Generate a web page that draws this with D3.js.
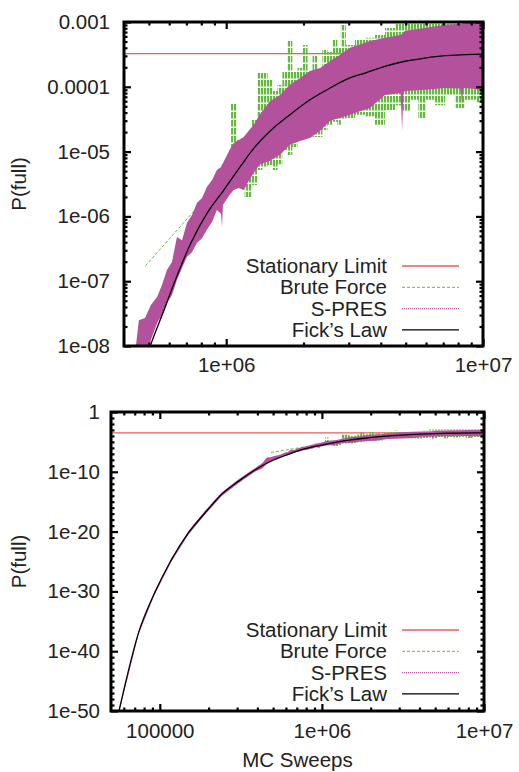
<!DOCTYPE html>
<html>
<head>
<meta charset="utf-8">
<script src="https://cdn.jsdelivr.net/npm/d3@7"></script>
<style>
body{margin:0;background:#fff;}
text{font-family:"Liberation Sans",Arial,sans-serif;fill:#222;}
</style>
</head>
<body>
<div id="chart-area"></div>
<script>
// values
var stationaryLimit = [3.25e-4];

var fickX = [5.6e4, 7.4e4, 9.3e4, 1.18e5, 1.5e5, 1.9e5, 2.4e5, 3.05e5, 3.86e5,
  5.08e5, 5.73e5, 6.27e5, 7.28e5, 8.43e5, 9.79e5, 1.14e6, 1.28e6, 1.48e6, 1.77e6,
  2.12e6, 2.54e6, 3.03e6, 3.47e6, 4.15e6, 4.97e6, 5.94e6, 7.11e6, 8.51e6, 1e7];
var fickY = [1e-50, 1.3e-37, 6e-31, 2e-25, 6e-21, 1.3e-17, 1.6e-14, 2.5e-12, 2e-10,
  1.04e-8, 3.6e-8, 9.3e-8, 3.85e-7, 1.12e-6, 2.55e-6, 6.0e-6, 1.12e-5, 2.06e-5, 3.7e-5,
  6.3e-5, 9.6e-5, 1.37e-4, 1.63e-4, 2.07e-4, 2.48e-4, 2.78e-4, 3.02e-4, 3.13e-4, 3.2e-4];

// S-PRES: lower / upper edge of the noisy band
var spresX = [5.6e4, 7.4e4, 9.3e4, 1.18e5, 1.5e5, 1.9e5, 2.4e5, 3.05e5, 3.86e5, 4.3e5,
  4.57e5, 4.83e5, 5.09e5, 5.38e5, 5.62e5, 5.88e5, 6.15e5, 6.43e5, 6.73e5, 7.03e5,
  7.36e5, 7.69e5, 8.05e5, 8.41e5, 8.81e5, 9.2e5, 9.55e5, 9.63e5, 9.71e5, 1.03e6,
  1.07e6, 1.12e6, 1.17e6, 1.23e6, 1.28e6, 1.35e6, 1.48e6, 1.62e6, 1.77e6, 1.94e6,
  2.12e6, 2.32e6, 2.54e6, 2.77e6, 3.03e6, 3.32e6, 3.63e6, 4.15e6, 4.78e6, 4.84e6,
  4.90e6, 4.97e6, 5.94e6, 7.11e6, 8.2e6, 8.28e6, 8.36e6, 8.51e6, 1e7];
var spresLo = [5e-51, 7e-38, 3e-31, 1e-25, 3e-21, 7e-18, 8e-15, 1.2e-12, 1e-10, 4e-10,
  2e-9, 5e-9, 1.24e-8, 2.26e-8, 3.0e-8, 4.6e-8, 6.1e-8, 1.04e-7, 1.6e-7, 2.36e-7,
  2.8e-7, 3.9e-7, 4.6e-7, 6.2e-7, 8.2e-7, 1.26e-6, 1.1e-6, 6.9e-7, 1.5e-6, 2.14e-6,
  2.55e-6, 2.74e-6, 2.55e-6, 3.65e-6, 4.7e-6, 6.3e-6, 7.2e-6, 8.95e-6, 1.28e-5, 1.46e-5,
  1.62e-5, 2.1e-5, 3.0e-5, 3.3e-5, 3.7e-5, 4.2e-5, 4.7e-5, 7.5e-5, 8.0e-5, 2.1e-5,
  8.3e-5, 8.6e-5, 9.0e-5, 9.6e-5, 9.4e-5, 5.1e-5, 9.5e-5, 9.6e-5, 9.0e-5];
var spresHi = [2e-50, 2.5e-37, 1.2e-30, 4e-25, 1.2e-20, 3e-17, 3e-14, 5e-12, 4e-10, 3e-9,
  2.5e-8, 2.7e-8, 4.3e-8, 5.7e-8, 8.7e-8, 1.49e-7, 1.98e-7, 4.8e-7, 4.3e-7, 7.9e-7,
  1.05e-6, 1.61e-6, 1.92e-6, 2.84e-6, 3.65e-6, 5.2e-6, 5.8e-6, 6.3e-6, 6.6e-6, 1.06e-5,
  1.36e-5, 1.51e-5, 1.68e-5, 2.15e-5, 2.6e-5, 3.7e-5, 6.0e-5, 7.5e-5, 1.08e-4, 1.37e-4,
  1.75e-4, 1.95e-4, 2.5e-4, 3.1e-4, 4.0e-4, 4.5e-4, 5.1e-4, 5.7e-4, 6.3e-4, 6.5e-4,
  6.9e-4, 7.3e-4, 8.1e-4, 9.1e-4, 9.4e-4, 9.5e-4, 9.6e-4, 9.7e-4, 1.04e-3];

// Brute Force: sparse start, then noisy band
var bruteLineX = [4.85e5, 1.02e6];
var bruteLineY = [1.73e-7, 4.8e-6];
var bruteX = [1.02e6, 1.07e6, 1.13e6, 1.23e6, 1.29e6, 1.35e6, 1.42e6, 1.48e6, 1.55e6, 1.62e6,
  1.69e6, 1.77e6, 1.85e6, 1.94e6, 2.03e6, 2.12e6, 2.22e6, 2.32e6, 2.42e6, 2.54e6,
  2.65e6, 2.77e6, 2.82e6, 3.03e6, 3.32e6, 3.63e6, 3.97e6, 4.34e6, 4.75e6, 4.97e6,
  5.43e6, 5.78e6, 6.22e6, 6.81e6, 7.43e6, 8.13e6, 8.89e6, 1e7];
var bruteLo = [4.8e-6, 1.18e-5, 4.4e-6, 2.0e-6, 3.05e-6, 5.2e-6, 5.6e-6, 6.2e-6, 5.2e-6, 6.4e-6,
  1.06e-5, 8.9e-6, 1.18e-5, 1.51e-5, 1.62e-5, 1.74e-5, 1.68e-5, 1.68e-5, 2.15e-5, 2.6e-5,
  2.9e-5, 2.6e-5, 3.1e-5, 3.3e-5, 3.7e-5, 3.5e-5, 2.6e-5, 4.4e-5, 5.2e-5, 4.1e-5,
  6.3e-5, 3.3e-5, 6.3e-5, 5.2e-5, 7.5e-5, 4.7e-5, 6.3e-5, 5.8e-5];
var bruteHi = [4.8e-6, 5.6e-5, 1.51e-5, 1.8e-5, 3.1e-5, 1.63e-4, 1.63e-4, 1.27e-4, 8.6e-5, 1.07e-4,
  1.75e-4, 5.1e-4, 1.75e-4, 1.95e-4, 4.4e-4, 1.75e-4, 3.1e-4, 1.75e-4, 3.7e-4, 3.44e-4,
  5.3e-4, 4.0e-4, 9.0e-4, 4.4e-4, 5.3e-4, 5.7e-4, 6.3e-4, 8.1e-4, 1.2e-3, 1.2e-3,
  1.2e-3, 1.2e-3, 1.2e-3, 1.2e-3, 1.2e-3, 1.2e-3, 1.2e-3, 1.2e-3];

var legendNames = ["Stationary Limit", "Brute Force", "S-PRES", "Fick\u2019s Law"];

var topXTicks = [1e6, 1e7], topXLabels = ["1e+06", "1e+07"];
var topYTicks = [1e-3, 1e-4, 1e-5, 1e-6, 1e-7, 1e-8];
var topYLabels = ["0.001", "0.0001", "1e-05", "1e-06", "1e-07", "1e-08"];
var botXTicks = [1e5, 1e6, 1e7], botXLabels = ["100000", "1e+06", "1e+07"];
var botYTicks = [1, 1e-10, 1e-20, 1e-30, 1e-40, 1e-50];
var botYLabels = ["1", "1e-10", "1e-20", "1e-30", "1e-40", "1e-50"];

var red = "#f05a5a", green = "#64b83e", magenta = "#b4519d";

var svg = d3.select("#chart-area").append("svg")
    .attr("width", 519)
    .attr("height", 772);

var defs = svg.append("defs");
var pat = defs.append("pattern")
    .attr("id", "gdash")
    .attr("patternUnits", "userSpaceOnUse")
    .attr("width", 3).attr("height", 8);
pat.append("rect").attr("width", 2.2).attr("height", 6.5).attr("fill", green);

// minor ticks at 2..9 of each decade
function minorLog(dom) {
  var out = [];
  for (var e = Math.floor(Math.log10(dom[0])); e < Math.ceil(Math.log10(dom[1])); e++) {
    for (var k = 2; k <= 9; k++) {
      var v = k * Math.pow(10, e);
      if (v > dom[0] * 1.0001 && v < dom[1] * 0.9999) out.push(v);
    }
  }
  return out;
}
// minor ticks at every decade between the labelled ones
function minorDecades(dom, majors) {
  var out = [];
  for (var e = Math.round(Math.log10(dom[0])); e <= Math.round(Math.log10(dom[1])); e++) {
    var v = Number("1e" + e);
    if (majors.indexOf(v) < 0) out.push(v);
  }
  return out;
}

var panels = [
  {id: "a", xDom: [4e5, 1e7], xRange: [124, 483], yDom: [1e-8, 1e-3], yRange: [346, 22],
   xTicks: topXTicks, xLabels: topXLabels, yTicks: topYTicks, yLabels: topYLabels,
   yPad: 14, xPad: 11, legendTop: 266, labelX: 26, xTitle: null},
  {id: "b", xDom: [5e4, 1e7], xRange: [111, 484], yDom: [1e-50, 1], yRange: [711, 412],
   xTicks: botXTicks, xLabels: botXLabels, yTicks: botYTicks, yLabels: botYLabels,
   yPad: 11, xPad: 12, legendTop: 630, labelX: 26, xTitle: "MC Sweeps", decadeMinor: true}
];

panels.forEach(function(p) {
  var x = d3.scaleLog().domain(p.xDom).range(p.xRange);
  var y = d3.scaleLog().domain(p.yDom).range(p.yRange);
  var g = svg.append("g");

  defs.append("clipPath").attr("id", "clip" + p.id).append("rect")
      .attr("x", x(p.xDom[0])).attr("y", y(p.yDom[1]))
      .attr("width", x(p.xDom[1]) - x(p.xDom[0]))
      .attr("height", y(p.yDom[0]) - y(p.yDom[1]));

  var plot = g.append("g").attr("clip-path", "url(#clip" + p.id + ")");

  // stationary limit
  plot.append("line")
      .attr("x1", x(p.xDom[0])).attr("x2", x(p.xDom[1]))
      .attr("y1", y(stationaryLimit[0])).attr("y2", y(stationaryLimit[0]))
      .attr("stroke", red).attr("stroke-width", 1.3);

  var band = d3.area()
      .x(function(d) { return x(d[0]); })
      .y0(function(d) { return y(d[1]); })
      .y1(function(d) { return y(d[2]); });

  // brute force
  plot.append("path")
      .datum(d3.zip(bruteLineX, bruteLineY))
      .attr("d", d3.line().x(function(d) { return x(d[0]); }).y(function(d) { return y(d[1]); }))
      .attr("fill", "none").attr("stroke", green).attr("stroke-width", 1)
      .attr("stroke-dasharray", "3,2");
  plot.append("path")
      .datum(d3.zip(bruteX, bruteLo, bruteHi))
      .attr("d", band.curve(d3.curveStep))
      .attr("fill", "url(#gdash)");

  // S-PRES
  plot.append("path")
      .datum(d3.zip(spresX, spresLo, spresHi))
      .attr("d", band.curve(d3.curveLinear))
      .attr("fill", magenta);

  // Fick's law
  plot.append("path")
      .datum(d3.zip(fickX, fickY))
      .attr("d", d3.line().curve(d3.curveMonotoneX)
        .x(function(d) { return x(d[0]); }).y(function(d) { return y(d[1]); }))
      .attr("fill", "none").attr("stroke", "#000").attr("stroke-width", 1.3);

  // ticks, inward on all four sides
  var xMinor = minorLog(p.xDom);
  var yMinor = p.decadeMinor ? minorDecades(p.yDom, p.yTicks) : minorLog(p.yDom);
  var sides = [
    {f: d3.axisBottom, s: x, t: "translate(0," + y(p.yDom[0]) + ")", maj: p.xTicks, min: xMinor, lab: p.xLabels, pad: p.xPad},
    {f: d3.axisTop, s: x, t: "translate(0," + y(p.yDom[1]) + ")", maj: p.xTicks, min: xMinor},
    {f: d3.axisLeft, s: y, t: "translate(" + x(p.xDom[0]) + ",0)", maj: p.yTicks, min: yMinor, lab: p.yLabels, pad: p.yPad},
    {f: d3.axisRight, s: y, t: "translate(" + x(p.xDom[1]) + ",0)", maj: p.yTicks, min: yMinor}
  ];
  sides.forEach(function(sd) {
    var major = sd.f(sd.s).tickValues(sd.maj).tickSize(-7).tickSizeOuter(0)
        .tickPadding(sd.pad || 0)
        .tickFormat(function(d, i) { return sd.lab ? sd.lab[i] : ""; });
    var ag = g.append("g").attr("transform", sd.t).call(major);
    ag.select(".domain").remove();
    ag.selectAll("line").attr("stroke", "#000").attr("stroke-width", 2.2);
    ag.selectAll("text").attr("font-size", "20.5px").attr("fill", "#222")
      .style("font-family", "'Liberation Sans', Arial, sans-serif");
    var minor = sd.f(sd.s).tickValues(sd.min).tickSize(-3.5).tickSizeOuter(0).tickFormat("");
    var mg = g.append("g").attr("transform", sd.t).call(minor);
    mg.select(".domain").remove();
    mg.selectAll("line").attr("stroke", "#000").attr("stroke-width", 2.2);
  });

  // frame
  g.append("rect")
      .attr("x", x(p.xDom[0])).attr("y", y(p.yDom[1]))
      .attr("width", x(p.xDom[1]) - x(p.xDom[0]))
      .attr("height", y(p.yDom[0]) - y(p.yDom[1]))
      .attr("fill", "none").attr("stroke", "#000").attr("stroke-width", 3);

  // y label
  g.append("text")
      .attr("transform", "translate(" + p.labelX + "," + ((p.yRange[0] + p.yRange[1]) / 2) + ") rotate(-90)")
      .attr("text-anchor", "middle")
      .attr("font-size", "20.5px")
      .text("P(full)");

  if (p.xTitle) {
    g.append("text")
        .attr("x", (p.xRange[0] + p.xRange[1]) / 2)
        .attr("y", 767)
        .attr("text-anchor", "middle")
        .attr("font-size", "20.5px")
        .text(p.xTitle);
  }

  // legend
  var styles = [
    {c: red, dash: null, w: 1.5},
    {c: green, dash: "3,2", w: 1},
    {c: magenta, dash: "1,1", w: 1.2},
    {c: "#000", dash: null, w: 1.2}
  ];
  legendNames.forEach(function(name, i) {
    var ly = p.legendTop + i * 21.3;
    g.append("text")
        .attr("x", 387).attr("y", ly).attr("dy", "0.35em")
        .attr("text-anchor", "end")
        .attr("font-size", "20.5px")
        .text(name);
    g.append("line")
        .attr("x1", 402).attr("x2", 459).attr("y1", ly).attr("y2", ly)
        .attr("stroke", styles[i].c).attr("stroke-width", styles[i].w)
        .attr("stroke-dasharray", styles[i].dash);
  });
});
</script>
</body>
</html>
